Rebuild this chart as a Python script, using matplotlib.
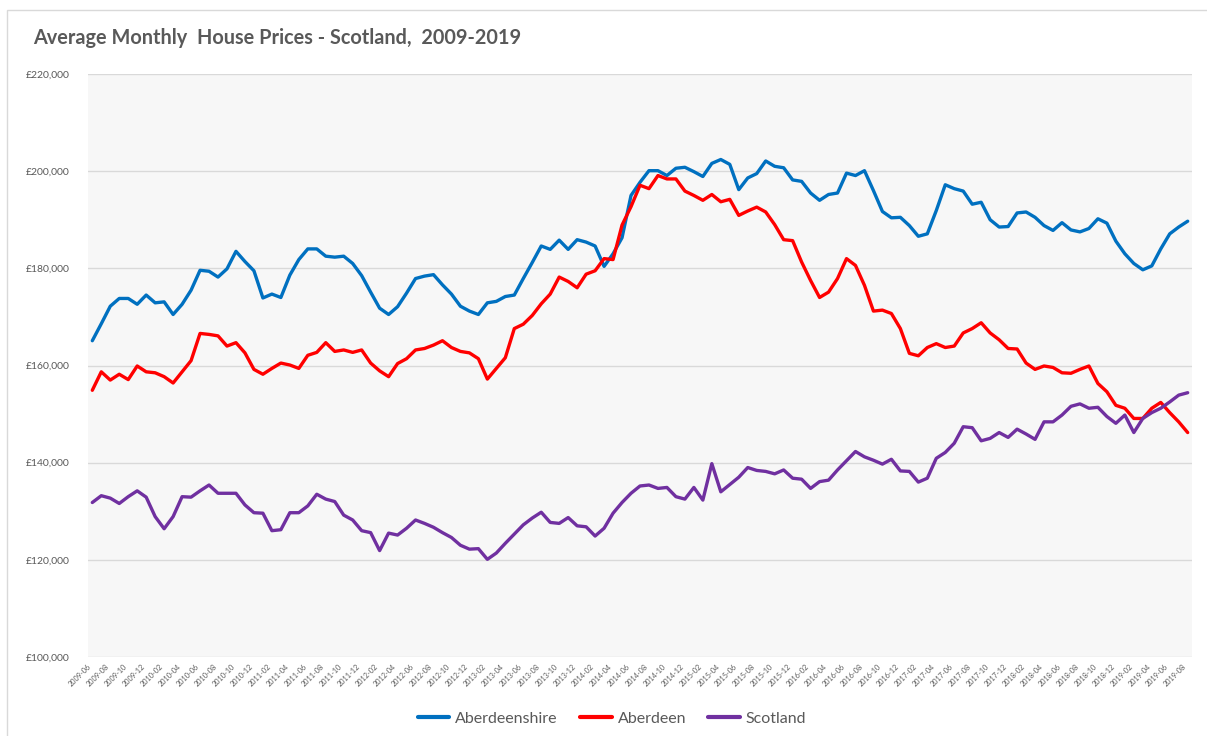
import numpy as np
import pandas as pd
import matplotlib
matplotlib.use('Agg')
import matplotlib.pyplot as plt
from matplotlib.patches import Rectangle
from matplotlib.ticker import FuncFormatter

plt.rcParams['font.family'] = ['Lato', 'DejaVu Sans']

# monthly labels, 2009-06 .. 2019-08
months = list(pd.date_range('2009-06-01', periods=123, freq='MS').strftime('%Y-%m'))

# average prices in thousands of pounds
aberdeenshire = [
    165.1, 168.6, 172.2, 173.8, 173.8, 172.6, 174.5, 172.9, 173.1, 170.5, 172.6, 175.5,
    179.6, 179.4, 178.2, 179.9, 183.5, 181.4, 179.5, 173.9, 174.7, 174.0, 178.6, 181.8,
    184.0, 184.0, 182.5, 182.3, 182.5, 181.0, 178.5, 175.1,
    171.8, 170.5, 172.1, 174.9, 177.9, 178.4, 178.7, 176.6, 174.7, 172.2, 171.2, 170.5,
    172.9, 173.2, 174.2, 174.5, 177.9, 181.2, 184.6, 183.9, 185.8, 183.9, 185.9, 185.4,
    184.6, 180.4, 183.0, 186.3, 195.0, 197.7, 200.1,
    200.1, 199.1, 200.6, 200.8, 199.9, 198.9, 201.6, 202.4, 201.4, 196.2, 198.6, 199.5,
    202.1, 201.0, 200.7, 198.2, 197.9, 195.5, 194.0, 195.2, 195.5, 199.6, 199.1, 200.1,
    196.0, 191.7, 190.4, 190.5, 188.8, 186.6, 187.1,
    191.9, 197.2, 196.4, 195.9, 193.2, 193.6, 190.0, 188.5, 188.6, 191.4, 191.6, 190.5,
    188.8, 187.8, 189.4, 187.9, 187.5, 188.2, 190.2, 189.3, 185.6, 183.0, 181.0, 179.7,
    180.5, 184.0, 187.1, 188.5, 189.7]

aberdeen = [
    154.9, 158.7, 157.0, 158.2, 157.1, 159.9, 158.7, 158.5, 157.7, 156.4, 158.7, 161.0,
    166.6, 166.4, 166.1, 164.0, 164.7, 162.6, 159.2, 158.2, 159.4, 160.5, 160.1, 159.4,
    162.1, 162.7, 164.7, 162.9, 163.2, 162.7, 163.2, 160.5,
    158.9, 157.7, 160.4, 161.4, 163.2, 163.5, 164.2, 165.1, 163.7, 162.9, 162.6, 161.4,
    157.2, 159.4, 161.6, 167.6, 168.5, 170.3, 172.7, 174.7, 178.2, 177.3, 176.0, 178.8,
    179.5, 182.0, 181.8, 188.9, 192.7, 197.1, 196.4,
    199.1, 198.4, 198.4, 195.9, 195.0, 194.0, 195.2, 193.7, 194.2, 190.9, 191.8, 192.6,
    191.6, 189.0, 185.9, 185.7, 181.3, 177.5, 174.0, 175.1, 177.9, 182.0, 180.6, 176.5,
    171.2, 171.4, 170.7, 167.6, 162.5, 162.0, 163.7,
    164.5, 163.7, 164.0, 166.7, 167.6, 168.8, 166.7, 165.3, 163.5, 163.4, 160.5, 159.2,
    159.9, 159.6, 158.5, 158.4, 159.2, 159.9, 156.3, 154.6, 151.8, 151.2, 149.1, 149.1,
    151.2, 152.4, 150.3, 148.4, 146.2]

scotland = [
    131.8, 133.2, 132.7, 131.6, 133.0, 134.2, 132.9, 128.9, 126.4, 128.9, 133.0, 132.9,
    134.2, 135.4, 133.7, 133.7, 133.7, 131.3, 129.7, 129.6, 126.0, 126.2, 129.7, 129.7,
    131.1, 133.5, 132.5, 132.0, 129.2, 128.2, 126.0, 125.6,
    121.9, 125.5, 125.1, 126.5, 128.2, 127.5, 126.7, 125.6, 124.6, 123.0, 122.2, 122.3,
    120.1, 121.4, 123.4, 125.3, 127.2, 128.6, 129.8, 127.7, 127.5, 128.7, 127.0, 126.8,
    124.9, 126.5, 129.6, 131.8, 133.7, 135.2, 135.4,
    134.7, 134.9, 133.0, 132.5, 134.9, 132.3, 139.8, 134.0, 135.5, 137.0, 139.0, 138.4,
    138.2, 137.7, 138.5, 136.8, 136.6, 134.7, 136.1, 136.4, 138.5, 140.4, 142.3, 141.2,
    140.5, 139.7, 140.7, 138.3, 138.2, 136.0, 136.8,
    140.9, 142.1, 144.0, 147.4, 147.2, 144.5, 145.0, 146.2, 145.2, 146.9, 145.9, 144.8,
    148.4, 148.4, 149.8, 151.6, 152.1, 151.2, 151.4, 149.5, 148.1, 149.8, 146.2, 149.1,
    150.3, 151.2, 152.5, 153.9, 154.4]

series_names = ['Aberdeenshire', 'Aberdeen', 'Scotland']
series_colors = ['#0070C0', '#FF0000', '#7030A0']

text_col = '#595959'
W, H = 1207, 736

fig = plt.figure(figsize=(W / 100, H / 100), dpi=100, facecolor='white')

# chart area border
fig.patches.append(Rectangle((7 / W, -0.05), 1.1, 1 - 10 / H + 0.05, transform=fig.transFigure,
                             fill=False, edgecolor='#D9D9D9', linewidth=1.0))

ax = fig.add_axes([88 / W, 1 - 657 / H, (1192 - 88) / W, (657 - 74) / H])
ax.set_facecolor('#F7F7F7')

x = np.arange(len(months))
for vals, name, col in zip([aberdeenshire, aberdeen, scotland], series_names, series_colors):
    ax.plot(x, np.array(vals) * 1000, color=col, linewidth=2.4, label=name,
            solid_joinstyle='round', solid_capstyle='round', zorder=3)

# axes setup
ax.set_xlim(-0.48, len(months) - 1 + 0.48)
ax.set_ylim(100000, 220000)
ax.set_yticks(np.arange(100000, 220001, 20000))
ax.yaxis.set_major_formatter(FuncFormatter(lambda v, p: '£{:,.0f}'.format(v)))
ax.set_xticks(x[::2])
ax.set_xticklabels(months[::2], rotation=45, ha='right', va='top', fontsize=5.2, color=text_col)
ax.tick_params(axis='y', length=0, pad=13, labelsize=7.5, labelcolor=text_col)
ax.tick_params(axis='x', length=0, pad=4)
ax.grid(axis='y', color='#D9D9D9', linewidth=1.0, zorder=0)
ax.set_axisbelow(True)
for s in ax.spines.values():
    s.set_visible(False)

fig.text(33 / W, 1 - 38 / H, 'Average Monthly  House Prices - Scotland,  2009-2019',
         fontsize=14.3, fontweight='bold', color=text_col, ha='left', va='center')

leg = fig.legend(loc='center', bbox_to_anchor=(0.507, 1 - 719 / H), ncol=3, frameon=False,
                 fontsize=11.5, handlelength=2.0, handletextpad=0.35, columnspacing=1.4)
for t in leg.get_texts():
    t.set_color(text_col)
for l in leg.get_lines():
    l.set_linewidth(3)

fig.savefig('out.png', dpi=100, facecolor='white')
